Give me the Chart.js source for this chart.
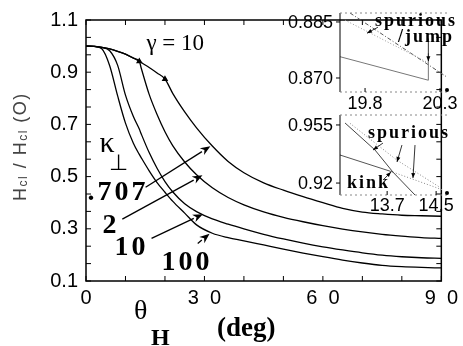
<!DOCTYPE html>
<html>
<head>
<meta charset="utf-8">
<script src="https://cdn.jsdelivr.net/npm/chart.js@4.4.0/dist/chart.umd.min.js"></script>
<style>
  html, body { margin: 0; padding: 0; background: #fff; }
  #wrap { position: relative; width: 463px; height: 346px; overflow: hidden; }
  canvas { position: absolute; }
</style>
</head>
<body>
<div id="wrap">
  <canvas id="main" width="463" height="346" style="left:0;top:0;width:463px;height:346px"></canvas>
  <canvas id="inset1" width="183" height="112" style="left:280px;top:3px;width:183px;height:112px"></canvas>
  <canvas id="inset2" width="183" height="110" style="left:280px;top:108px;width:183px;height:110px"></canvas>
</div>
<script>
// main curves: Hc1/Hc1(0) against theta_H (deg), gamma = 10
const theta = [0, 2, 4, 6, 8, 10, 12, 13.5, 14, 16, 18, 20, 22, 25, 28, 32, 36, 40, 45, 50, 55, 60, 65, 70, 75, 80, 85, 90];
const kappa707 = [1.000, 0.999, 0.995, 0.989, 0.980, 0.969, 0.954, 0.942, 0.937, 0.918, 0.897, 0.874, 0.818, 0.748, 0.687, 0.617, 0.558, 0.515, 0.476, 0.448, 0.423, 0.400, 0.378, 0.364, 0.357, 0.352, 0.350, 0.348];
const kappa2 = [1.000, 0.999, 0.995, 0.989, 0.980, 0.969, 0.954, 0.942, 0.915, 0.815, 0.738, 0.672, 0.618, 0.556, 0.507, 0.457, 0.420, 0.392, 0.365, 0.344, 0.327, 0.312, 0.299, 0.288, 0.279, 0.272, 0.266, 0.263];
const kappa10 = [1.000, 0.999, 0.995, 0.982, 0.927, 0.812, 0.730, 0.682, 0.663, 0.592, 0.532, 0.481, 0.441, 0.396, 0.366, 0.338, 0.318, 0.300, 0.279, 0.261, 0.245, 0.231, 0.219, 0.208, 0.199, 0.193, 0.189, 0.187];
const kappa100 = [1.000, 0.999, 0.990, 0.925, 0.810, 0.705, 0.628, 0.585, 0.572, 0.522, 0.477, 0.440, 0.405, 0.360, 0.315, 0.283, 0.266, 0.254, 0.238, 0.222, 0.207, 0.193, 0.180, 0.169, 0.160, 0.155, 0.152, 0.150];
const kappaNames = ['.707', '2', '10', '100'];
const markAt = [20, 13.5, null, null];   // small marks where the jump / kink happen

const xTickLabels = ['0', '3  0', '6  0', '9  0'];
const xLabelValues = [0, 30, 60, 90];
const yTickLabels = ['0.1', '0.3', '0.5', '0.7', '0.9', '1.1'];

// inset 1 (jump near 20 deg)
const in1XTicks = [19.8, 20.3];
const in1XLabels = ['19.8', '20.3'];
const in1YTicks = [0.870, 0.885];
const in1YLabels = ['0.870', '0.885'];
const in1A_x = [19.633, 20.222, 20.222];
const in1A_y = [0.8757, 0.8694, 0.8766];
const in1B_x = [19.666, 20.22];
const in1B_y = [0.8855, 0.8741];
const in1C_x = [19.70, 20.344];
const in1C_y = [0.8874, 0.8703];

// inset 2 (kink near 13.7 deg)
const in2XTicks = [13.7, 14.5];
const in2XLabels = ['13.7', '14.5'];
const in2YTicks = [0.92, 0.955];
const in2YLabels = ['0.92', '0.955'];
const in2S1_x = [12.93, 13.795];
const in2S1_y = [0.9369, 0.9266];
const in2S2_x = [13.012, 13.502, 13.795, 14.155];
const in2S2_y = [0.9562, 0.9399, 0.9266, 0.9128];
const in2D1_x = [13.093, 13.856, 14.563];
const in2D1_y = [0.9560, 0.9339, 0.9174];
const in2D2_x = [13.795, 14.612];
const in2D2_y = [0.9266, 0.9158];

const SANS = '"Liberation Sans", Arial, sans-serif';
const SERIF = '"Liberation Serif", "Times New Roman", serif';

function pts(xs, ys) { return xs.map((v, i) => ({ x: v, y: ys[i] })); }

function line(ctx, x1, y1, x2, y2) {
    ctx.beginPath(); ctx.moveTo(x1, y1); ctx.lineTo(x2, y2); ctx.stroke();
}

function arrow(ctx, x1, y1, x2, y2) {
    const a = Math.atan2(y2 - y1, x2 - x1);
    const L = 10, W = 4;
    const bx = x2 - L * Math.cos(a), by = y2 - L * Math.sin(a);
    line(ctx, x1, y1, bx, by);
    ctx.beginPath();
    ctx.moveTo(x2, y2);
    ctx.lineTo(bx + W * Math.sin(a), by - W * Math.cos(a));
    ctx.lineTo(bx + 0.3 * L * Math.cos(a), by + 0.3 * L * Math.sin(a));
    ctx.lineTo(bx - W * Math.sin(a), by + W * Math.cos(a));
    ctx.closePath();
    ctx.fill();
}

function arrowSmall(ctx, x1, y1, x2, y2) {
    const a = Math.atan2(y2 - y1, x2 - x1);
    line(ctx, x1, y1, x2, y2);
    ctx.beginPath();
    ctx.moveTo(x2, y2);
    ctx.lineTo(x2 - 5 * Math.cos(a) + 2 * Math.sin(a), y2 - 5 * Math.sin(a) - 2 * Math.cos(a));
    ctx.lineTo(x2 - 5 * Math.cos(a) - 2 * Math.sin(a), y2 - 5 * Math.sin(a) + 2 * Math.cos(a));
    ctx.closePath();
    ctx.fill();
}

// an empty axis that only reserves room, so the plot box sits where we want it
function spacer(position, size) {
    return {
        position,
        afterFit: s => { if (s.isHorizontal()) s.height = size; else s.width = size; },
        grid: { display: false, drawTicks: false },
        border: { display: false },
        ticks: { display: false }
    };
}

// annotations for the main panel, in data units
const arrowFrom = [[15.1, 0.459], [9.2, 0.337], [16.6, 0.263], [28.3, 0.244]];
const arrowTo = [[31.5, 0.616], [29.5, 0.505], [29.6, 0.356], [31.3, 0.281]];
const nameAt = [[0.4, 0.411], [4.2, 0.285], [7.2, 0.200], [19.1, 0.144]];

const mainOverlay = {
    id: 'mainOverlay',
    afterDraw(chart) {
        const { ctx, chartArea: a, scales: { x, y } } = chart;
        const X = v => x.getPixelForValue(v), Y = v => y.getPixelForValue(v);
        ctx.save();
        ctx.strokeStyle = '#000';
        ctx.fillStyle = '#000';
        ctx.lineWidth = 1.5;
        ctx.strokeRect(a.left, a.top, a.right - a.left, a.bottom - a.top);

        // inward ticks on all four sides
        ctx.lineWidth = 1;
        x.ticks.forEach(t => {
            const px = X(t.value);
            line(ctx, px, a.bottom, px, a.bottom - 5);
            line(ctx, px, a.top, px, a.top + 5);
        });
        y.ticks.forEach(t => {
            const py = Y(t.value);
            line(ctx, a.left, py, a.left + 5, py);
            line(ctx, a.right, py, a.right - 5, py);
        });

        // arrows to the curves
        ctx.lineWidth = 1.3;
        arrowFrom.forEach((f, i) => arrow(ctx, X(f[0]), Y(f[1]), X(arrowTo[i][0]), Y(arrowTo[i][1])));

        // kappa names
        ctx.textBaseline = 'alphabetic';
        ctx.textAlign = 'left';
        ctx.font = 'bold 28px ' + SERIF;
        ctx.letterSpacing = '3px';
        kappaNames.forEach((n, i) => ctx.fillText(n, X(nameAt[i][0]), Y(nameAt[i][1])));
        ctx.letterSpacing = '0px';

        ctx.font = '30px ' + SERIF;
        ctx.fillText('\u03BA', X(3.4), Y(0.596));
        ctx.font = '22px "DejaVu Sans", ' + SERIF;
        ctx.fillText('\u22A5', X(5.8), Y(0.526));

        ctx.font = '23px ' + SERIF;
        ctx.fillText('\u03B3 = 10', X(15.3), Y(0.985));

        // x axis title
        ctx.font = '28px ' + SERIF;
        ctx.fillText('\u03B8', 134, 319);
        ctx.font = 'bold 24px ' + SERIF;
        ctx.fillText('H', 151, 345);
        ctx.font = 'bold 27px ' + SERIF;
        ctx.fillText('(deg)', 217, 336);

        // y axis title, rotated
        ctx.save();
        ctx.translate(26, 201);
        ctx.rotate(-Math.PI / 2);
        ctx.fillStyle = '#444';
        ctx.letterSpacing = '1.5px';
        let cx = 0;
        [['H', 18, 0], ['cl', 12, 1], [' / ', 18, 0], ['H', 18, 0], ['cl', 12, 1], [' (O)', 18, 0]].forEach(([t, s, dy]) => {
            ctx.font = s + 'px ' + SANS;
            ctx.fillText(t, cx, dy);
            cx += ctx.measureText(t).width;
        });
        ctx.restore();
        ctx.restore();
    }
};

new Chart(document.getElementById('main'), {
    type: 'line',
    data: {
        datasets: [kappa707, kappa2, kappa10, kappa100].map((vals, i) => ({
            label: kappaNames[i],
            data: pts(theta, vals),
            borderColor: '#000',
            backgroundColor: '#000',
            borderWidth: 1.3,
            cubicInterpolationMode: 'monotone',
            pointStyle: 'triangle',
            pointRadius: c => (theta[c.dataIndex] === markAt[i] ? 2.5 : 0),
            fill: false
        }))
    },
    options: {
        responsive: false,
        animation: false,
        layout: { padding: 0 },
        plugins: { legend: { display: false }, tooltip: { enabled: false } },
        scales: {
            x: {
                type: 'linear', min: 0, max: 90,
                afterFit: s => { s.height = 65; },
                afterBuildTicks: s => { s.ticks = [0, 10, 20, 30, 40, 50, 60, 70, 80, 90].map(v => ({ value: v })); },
                grid: { display: false, drawTicks: false },
                border: { display: false },
                ticks: {
                    autoSkip: false, maxRotation: 0, padding: 5, color: '#000',
                    font: { family: SANS, size: 20 },
                    callback: v => { const k = xLabelValues.indexOf(v); return k >= 0 ? xTickLabels[k] : ''; }
                }
            },
            y: {
                type: 'linear', min: 0.1, max: 1.1,
                afterFit: s => { s.width = 86; },
                afterBuildTicks: s => {
                    const t = [];
                    for (let i = 0; i <= 15; i++) t.push({ value: 0.1 + i * 0.2 / 3 });
                    s.ticks = t;
                },
                grid: { display: false, drawTicks: false },
                border: { display: false },
                ticks: {
                    autoSkip: false, padding: 8, color: '#000',
                    font: { family: SANS, size: 20 },
                    callback: (v, i) => (i % 3 === 0 ? yTickLabels[i / 3] : '')
                }
            },
            yR: spacer('right', 15),
            xT: spacer('top', 12)
        }
    },
    plugins: [mainOverlay]
});

// small inset panels; their tick labels are drawn by the overlay
function makeInset(id, cfg) {
    const overlay = {
        id: 'insetOverlay',
        afterDraw(chart) {
            const { ctx, chartArea: a, scales: { x, y } } = chart;
            const X = v => x.getPixelForValue(v), Y = v => y.getPixelForValue(v);
            ctx.save();
            ctx.strokeStyle = '#000';
            ctx.fillStyle = '#000';
            ctx.lineWidth = 1;
            line(ctx, a.left, a.top, a.left, a.bottom);
            ctx.strokeStyle = '#888';
            ctx.setLineDash([2, 3]);
            line(ctx, a.left, a.top, a.right, a.top);
            line(ctx, a.left, a.bottom, a.right, a.bottom);
            ctx.setLineDash([]);
            ctx.strokeStyle = '#000';

            ctx.font = '18px ' + SANS;
            ctx.textAlign = 'right';
            ctx.textBaseline = 'middle';
            cfg.yt.forEach((v, i) => {
                line(ctx, a.left - 4, Y(v), a.left, Y(v));
                ctx.fillText(cfg.yl[i], a.left - 7, Y(v) + 1);
            });
            ctx.textAlign = 'center';
            ctx.textBaseline = 'top';
            cfg.xt.forEach((v, i) => {
                line(ctx, X(v), a.bottom, X(v), a.bottom - 4);
                ctx.fillText(cfg.xl[i], X(v), a.bottom + cfg.xpad);
            });

            // end mark at the lower right corner
            ctx.beginPath();
            ctx.arc(a.right - 1, a.bottom - 2, 2, 0, Math.PI * 2);
            ctx.fill();

            ctx.font = 'bold 18px ' + SERIF;
            ctx.letterSpacing = '2px';
            ctx.textAlign = 'left';
            ctx.textBaseline = 'alphabetic';
            cfg.notes.forEach(n => ctx.fillText(n.text, X(n.at[0]), Y(n.at[1])));
            ctx.letterSpacing = '0px';
            ctx.lineWidth = 0.8;
            cfg.leaders.forEach(l => arrowSmall(ctx, X(l[0]), Y(l[1]), X(l[2]), Y(l[3])));
            ctx.restore();
        }
    };
    new Chart(document.getElementById(id), {
        type: 'line',
        data: { datasets: cfg.lines.map(l => Object.assign({ pointRadius: 0, fill: false, tension: 0 }, l)) },
        options: {
            responsive: false,
            animation: false,
            layout: { padding: 0 },
            plugins: { legend: { display: false }, tooltip: { enabled: false } },
            scales: {
                x: {
                    type: 'linear', min: cfg.xr[0], max: cfg.xr[1],
                    afterFit: s => { s.height = cfg.xh; },
                    grid: { display: false, drawTicks: false },
                    border: { display: false },
                    ticks: { display: false }
                },
                y: {
                    type: 'linear', min: cfg.yr[0], max: cfg.yr[1],
                    afterFit: s => { s.width = 60; },
                    grid: { display: false, drawTicks: false },
                    border: { display: false },
                    ticks: { display: false }
                },
                yR: spacer('right', 15),
                xT: spacer('top', cfg.top)
            }
        },
        plugins: [overlay]
    });
}

makeInset('inset1', {
    xr: [19.633, 20.353], yr: [0.86625, 0.8874], top: 10, xh: 23, xpad: 3,
    xt: in1XTicks, xl: in1XLabels, yt: in1YTicks, yl: in1YLabels,
    lines: [
        { data: pts(in1A_x, in1A_y), borderColor: '#777', borderWidth: 1 },
        { data: pts(in1B_x, in1B_y), borderColor: '#999', borderWidth: 1, borderDash: [1, 2] },
        { data: pts(in1C_x, in1C_y), borderColor: '#555', borderWidth: 1, borderDash: [4, 2, 1, 2] }
    ],
    notes: [{ text: 'spurious', at: [19.866, 0.8839] }, { text: '/jump', at: [20.02, 0.8796] }],
    leaders: [[19.886, 0.8836, 19.813, 0.8820], [20.222, 0.8806, 20.222, 0.8745]]
});

makeInset('inset2', {
    xr: [12.93, 14.694], yr: [0.9128, 0.961], top: 7, xh: 23, xpad: 2,
    xt: in2XTicks, xl: in2XLabels, yt: in2YTicks, yl: in2YLabels,
    lines: [
        { data: pts(in2S1_x, in2S1_y), borderColor: '#555', borderWidth: 1 },
        { data: pts(in2S2_x, in2S2_y), borderColor: '#444', borderWidth: 1 },
        { data: pts(in2D1_x, in2D1_y), borderColor: '#888', borderWidth: 1, borderDash: [1, 2] },
        { data: pts(in2D2_x, in2D2_y), borderColor: '#888', borderWidth: 1, borderDash: [1, 2] }
    ],
    notes: [{ text: 'spurious', at: [13.387, 0.9471] }, { text: 'kink', at: [13.044, 0.9170] }],
    leaders: [
        [13.632, 0.9441, 13.469, 0.9399],
        [13.942, 0.9429, 13.861, 0.9327],
        [14.155, 0.9429, 14.122, 0.9230],
        [13.632, 0.9218, 13.763, 0.9266]
    ]
});
</script>
</body>
</html>
